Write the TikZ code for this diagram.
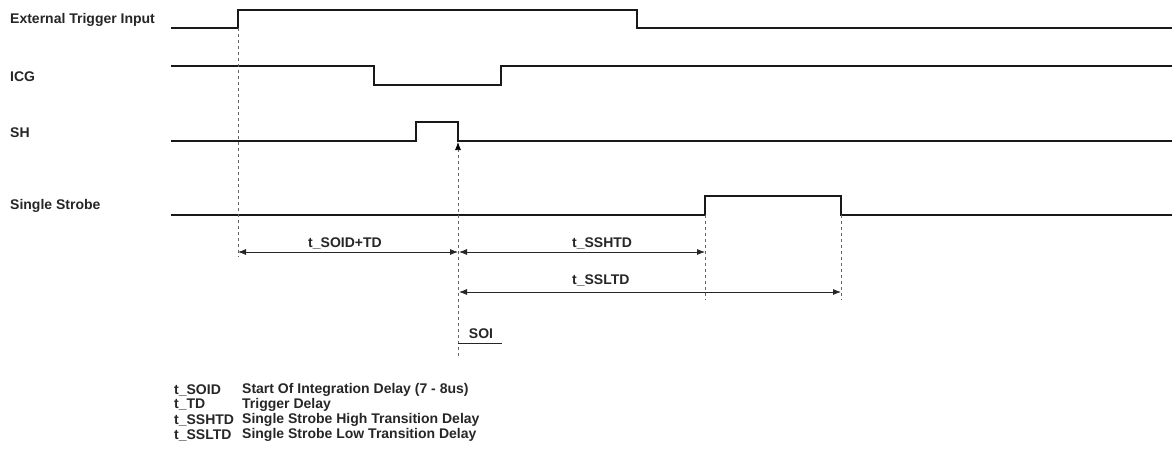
\documentclass[tikz,border=0pt]{standalone}
\usepackage{fontspec}
\setmainfont{Liberation Sans}
\usetikzlibrary{arrows.meta}

\begin{document}
\begin{tikzpicture}[
  x=1pt, y=-1pt,
  wave/.style={line width=1.6pt, black!90},
  guide/.style={dash pattern=on 3pt off 3pt, line width=0.7pt, gray!80!black},
  dim/.style={{Latex[length=8pt,width=6pt]}-{Latex[length=8pt,width=6pt]}, line width=0.8pt, black!85},
  lbl/.style={anchor=west, inner sep=0pt, text=black!85, font=\fontsize{14}{15}\selectfont\bfseries},
  tag/.style={inner sep=0pt, text=black!85, font=\fontsize{14}{15}\selectfont\bfseries}
]
\useasboundingbox (0,0) rectangle (1172,452);

% signal names
\node[lbl] (trig) at (10,20) {External Trigger Input};
\node[lbl] (icg) at (10,77) {ICG};
\node[lbl] (sh) at (10,133) {SH};
\node[lbl] (strobe) at (10,206) {Single Strobe};

% waveforms
\draw[wave] (171,28) -- (238,28) -- (238,10) -- (637,10) -- (637,28) -- (1172,28);
\draw[wave] (171,66) -- (374,66) -- (374,85) -- (501,85) -- (501,66) -- (1172,66);
\draw[wave] (171,141) -- (416,141) -- (416,122) -- (458,122) -- (458,141) -- (1172,141);
\draw[wave] (171,215) -- (705,215) -- (705,196) -- (841,196) -- (841,215) -- (1172,215);

% edges and guide ends
\coordinate (trigrise) at (238,28);
\coordinate (shfall) at (458,142);
\coordinate (ssrise) at (705,215);
\coordinate (ssfall) at (841,215);
\coordinate (trigend) at (238,257);
\coordinate (shend) at (458,356);
\coordinate (ssriseend) at (705,300);
\coordinate (ssfallend) at (841,300);

\draw[guide] (trigrise) -- (trigend);
\draw[guide, -{Latex[length=8pt,width=6pt,color=black]}] (shend) -- (shfall);
\draw[guide] (ssrise) -- (ssriseend);
\draw[guide] (ssfall) -- (ssfallend);

% delays
\coordinate (d1a) at (238,252);
\coordinate (d1b) at (458,252);
\coordinate (d2a) at (459,252);
\coordinate (d2b) at (705,252);
\coordinate (d3a) at (459,292);
\coordinate (d3b) at (841,292);

\draw[dim] (d1a) -- (d1b);
\draw[dim] (d2a) -- (d2b);
\draw[dim] (d3a) -- (d3b);

\node[tag] (soidtd) at (345,243) {t\_SOID+TD};
\node[tag, anchor=west] (sshtd) at (572,243) {t\_SSHTD};
\node[tag, anchor=west] (ssltd) at (572,280) {t\_SSLTD};

% start of integration
\coordinate (soiend) at (502,343);
\draw[line width=0.8pt, black!85] (458,343) -- (soiend);
\node[tag] (soi) at (481,334) {SOI};

% legend
\node[lbl] (k1) at (174,390) {t\_SOID};
\node[lbl] (k2) at (174,405) {t\_TD};
\node[lbl] (k3) at (174,420) {t\_SSHTD};
\node[lbl] (k4) at (174,435) {t\_SSLTD};
\node[lbl] (v1) at (242,390) {Start Of Integration Delay (7 - 8us)};
\node[lbl] (v2) at (242,405) {Trigger Delay};
\node[lbl] (v3) at (242,420) {Single Strobe High Transition Delay};
\node[lbl] (v4) at (242,435) {Single Strobe Low Transition Delay};

\end{tikzpicture}
\end{document}
